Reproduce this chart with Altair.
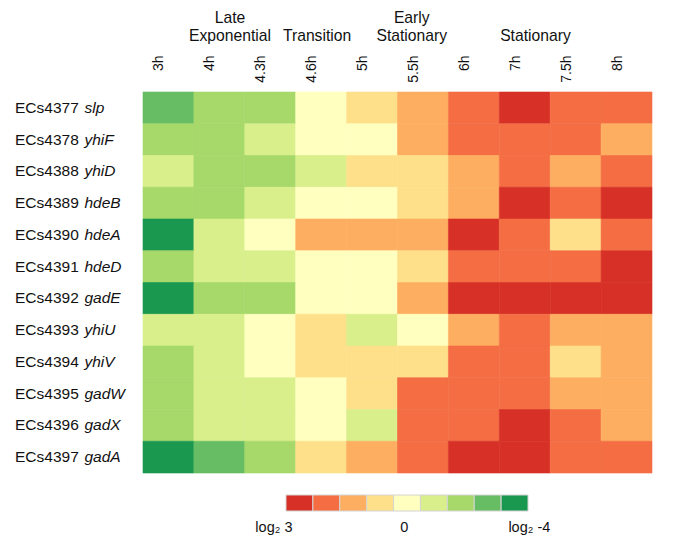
import altair as alt
import pandas as pd

# ---- data ----
gene_ids = ["ECs4377", "ECs4378", "ECs4388", "ECs4389", "ECs4390", "ECs4391",
            "ECs4392", "ECs4393", "ECs4394", "ECs4395", "ECs4396", "ECs4397"]
gene_names = ["slp", "yhiF", "yhiD", "hdeB", "hdeA", "hdeD",
              "gadE", "yhiU", "yhiV", "gadW", "gadX", "gadA"]
times = ["3h", "4h", "4.3h", "4.6h", "5h", "5.5h", "6h", "7h", "7.5h", "8h"]

# colour class per cell: 1 = log2 3 (strongest red) ... 5 = 0 ... 9 = log2 -4 (darkest green)
levels = [
    [8, 7, 7, 5, 4, 3, 2, 1, 2, 2],   # slp
    [7, 7, 6, 5, 5, 3, 2, 2, 2, 3],   # yhiF
    [6, 7, 7, 6, 4, 4, 3, 2, 3, 2],   # yhiD
    [7, 7, 6, 5, 5, 4, 3, 1, 2, 1],   # hdeB
    [9, 6, 5, 3, 3, 3, 1, 2, 4, 2],   # hdeA
    [7, 6, 6, 5, 5, 4, 2, 2, 2, 1],   # hdeD
    [9, 7, 7, 5, 5, 3, 1, 1, 1, 1],   # gadE
    [6, 6, 5, 4, 6, 5, 3, 2, 3, 3],   # yhiU
    [7, 6, 5, 4, 4, 4, 2, 2, 4, 3],   # yhiV
    [7, 6, 6, 5, 4, 2, 2, 2, 3, 3],   # gadW
    [7, 6, 6, 5, 6, 2, 2, 1, 2, 3],   # gadX
    [9, 8, 7, 4, 3, 2, 1, 1, 2, 2],   # gadA
]

classes = [1, 2, 3, 4, 5, 6, 7, 8, 9]
palette = ["#d73027", "#f46d43", "#fdae61", "#fee08b", "#ffffbf",
           "#d9ef8b", "#a6d96a", "#66bd63", "#1a9850"]

phase_line1 = ["Late", "Early"]
phase_line1_pos = [1.71, 5.28]
phase_line2 = ["Exponential", "Transition", "Stationary", "Stationary"]
phase_line2_pos = [1.71, 3.42, 5.28, 7.71]

legend_labels = ["log\u2082 3", "0", "log\u2082 -4"]
legend_label_pos = [-0.45, 4.4, 9.05]

# ---- tables ----
cells = pd.DataFrame(
    [{"id": gid, "time": t, "level": levels[i][j]}
     for i, gid in enumerate(gene_ids) for j, t in enumerate(times)]
)
rows = pd.DataFrame({"id": gene_ids, "gene": gene_names})
head1 = pd.DataFrame({"label": phase_line1, "pos": phase_line1_pos})
head2 = pd.DataFrame({"label": phase_line2, "pos": phase_line2_pos})
leg = pd.DataFrame({"level": classes, "start": [c - 1 for c in classes], "end": classes})
leg_txt = pd.DataFrame({"label": legend_labels, "pos": legend_label_pos})

FONT = "Liberation Sans"
TXT = "#111111"
W, H = 509, 381

yenc = alt.Y("id:N", sort=gene_ids, axis=None)
cscale = alt.Scale(domain=classes, range=palette)

heat = alt.Chart(cells).mark_rect(strokeWidth=0.6).encode(
    x=alt.X("time:N", sort=times,
            axis=alt.Axis(orient="top", title=None, labelAngle=270, labelAlign="right",
                          labelBaseline="middle", labelPadding=37, labelOffset=-9,
                          ticks=False, tickSize=0, domain=False, grid=False,
                          labelFont=FONT, labelFontSize=14, labelColor=TXT,
                          labelOverlap=False)),
    y=yenc,
    color=alt.Color("level:O", scale=cscale, legend=None),
    stroke=alt.Stroke("level:O", scale=cscale, legend=None),
)

id_text = alt.Chart(rows).mark_text(
    align="left", baseline="middle", font=FONT, fontSize=15.5, color=TXT
).encode(y=yenc, x=alt.value(-128), text="id:N")

gene_text = alt.Chart(rows).mark_text(
    align="left", baseline="middle", font=FONT, fontSize=15.5, fontStyle="italic", color=TXT
).encode(y=yenc, x=alt.value(-58.5), text="gene:N")

hx = alt.X("pos:Q", scale=alt.Scale(domain=[0, 10], range=[0, W]), axis=None)
h1 = alt.Chart(head1).mark_text(
    align="center", baseline="alphabetic", font=FONT, fontSize=15.7, color=TXT
).encode(x=hx, y=alt.value(-69.5), text="label:N")
h2 = alt.Chart(head2).mark_text(
    align="center", baseline="alphabetic", font=FONT, fontSize=15.7, color=TXT
).encode(x=hx, y=alt.value(-51.5), text="label:N")

lscale = alt.Scale(domain=[0, 9], range=[143, 385])
leg_rect = alt.Chart(leg).mark_rect(stroke="#d4d4d4", strokeWidth=1).encode(
    x=alt.X("start:Q", scale=lscale, axis=None),
    x2="end:Q",
    y=alt.value(403), y2=alt.value(419),
    color=alt.Color("level:O", scale=cscale, legend=None),
)
leg_text = alt.Chart(leg_txt).mark_text(
    align="center", baseline="alphabetic", font=FONT, fontSize=14.5, color=TXT
).encode(x=alt.X("pos:Q", scale=lscale, axis=None), y=alt.value(439.7), text="label:N")

chart = alt.layer(heat, id_text, gene_text, h1, h2, leg_rect, leg_text).resolve_scale(
    x="independent", y="shared", color="shared"
).properties(
    width=W, height=H,
    autosize=alt.AutoSizeParams(type="none"),
    padding={"left": 135, "top": 84, "right": 25, "bottom": 62},
    background="white",
).configure_view(stroke=None)

chart.save("out.html", embed_options={"renderer": "svg", "actions": False})
